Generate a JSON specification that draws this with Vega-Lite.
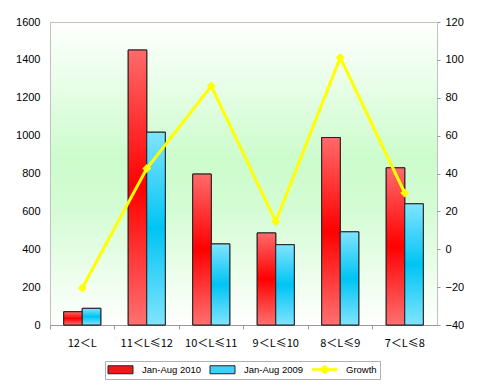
{
  "$schema": "https://vega.github.io/schema/vega-lite/v6.json",
  "width": 387,
  "height": 303,
  "padding": {"top": 16, "left": 15, "right": 18, "bottom": 4},
  "background": "#ffffff",
  "datasets": {
    "bars": [
      {"cat": "12＜L", "series": "Jan-Aug 2010", "value": 70},
      {"cat": "12＜L", "series": "Jan-Aug 2009", "value": 88},
      {"cat": "11＜L≤12", "series": "Jan-Aug 2010", "value": 1452},
      {"cat": "11＜L≤12", "series": "Jan-Aug 2009", "value": 1018},
      {"cat": "10＜L≤11", "series": "Jan-Aug 2010", "value": 797},
      {"cat": "10＜L≤11", "series": "Jan-Aug 2009", "value": 428},
      {"cat": "9＜L≤10", "series": "Jan-Aug 2010", "value": 486},
      {"cat": "9＜L≤10", "series": "Jan-Aug 2009", "value": 424},
      {"cat": "8＜L≤9", "series": "Jan-Aug 2010", "value": 990},
      {"cat": "8＜L≤9", "series": "Jan-Aug 2009", "value": 492},
      {"cat": "7＜L≤8", "series": "Jan-Aug 2010", "value": 830},
      {"cat": "7＜L≤8", "series": "Jan-Aug 2009", "value": 640}
    ],
    "growth": [
      {"cat": "12＜L", "series": "Growth", "growth": -20.5},
      {"cat": "11＜L≤12", "series": "Growth", "growth": 42.6},
      {"cat": "10＜L≤11", "series": "Growth", "growth": 86.2},
      {"cat": "9＜L≤10", "series": "Growth", "growth": 14.6},
      {"cat": "8＜L≤9", "series": "Growth", "growth": 101.2},
      {"cat": "7＜L≤8", "series": "Growth", "growth": 29.7}
    ]
  },
  "config": {
    "view": {
      "stroke": "#c0c0c0",
      "strokeWidth": 1,
      "fill": {
        "gradient": "linear", "x1": 0, "y1": 0, "x2": 0, "y2": 1,
        "stops": [
          {"offset": 0, "color": "#ffffff"},
          {"offset": 0.45, "color": "#ccfccc"},
          {"offset": 0.62, "color": "#d4fcd4"},
          {"offset": 1, "color": "#ffffff"}
        ]
      }
    },
    "axis": {
      "labelFont": "Liberation Sans",
      "labelFontSize": 11,
      "labelColor": "#000000",
      "titleFont": "Liberation Sans",
      "grid": false,
      "labelOverlap": false
    },
    "legend": {
      "labelFont": "Liberation Sans",
      "labelFontSize": 9.5,
      "labelColor": "#000000",
      "orient": "none",
      "legendX": 55,
      "legendY": 339,
      "direction": "horizontal",
      "padding": 3,
      "strokeColor": "#b0b0b0",
      "fillColor": "#ffffff",
      "columnPadding": 6,
      "symbolOffset": 7,
      "labelOffset": 16,
      "symbolSize": 100,
      "symbolStrokeWidth": 1
    }
  },
  "layer": [
    {
      "layer": [
        {
          "data": {"name": "bars"},
          "mark": {"type": "bar", "strokeWidth": 1},
          "encoding": {
            "x": {
              "field": "cat", "type": "nominal", "sort": null,
              "scale": {"paddingInner": 0, "paddingOuter": 0},
              "axis": {
                "title": null, "labelAngle": 0, "bandPosition": 0,
                "labelFont": "Noto Sans CJK SC", "labelFontSize": 11,
                "domainColor": "#999999", "tickColor": "#999999", "tickSize": 4,
                "labelPadding": 8
              }
            },
            "xOffset": {
              "field": "series", "type": "nominal",
              "scale": {"domain": ["Jan-Aug 2010", "Jan-Aug 2009"], "paddingInner": 0, "paddingOuter": 0.74}
            },
            "y": {
              "field": "value", "type": "quantitative",
              "scale": {"domain": [0, 1600]},
              "axis": {
                "title": null, "values": [0, 200, 400, 600, 800, 1000, 1200, 1400, 1600],
                "format": "d", "labelOverlap": false, "tickCount": 9,
                "ticks": false, "domain": false, "labelPadding": 10
              }
            },
            "color": {
              "field": "series", "type": "nominal",
              "scale": {
                "domain": ["Jan-Aug 2010", "Jan-Aug 2009", "Growth"],
                "range": ["#f01818", "#40d0ff", "#ffff00"]
              },
              "legend": {"title": null}
            },
            "stroke": {
              "field": "series", "type": "nominal",
              "scale": {
                "domain": ["Jan-Aug 2010", "Jan-Aug 2009", "Growth"],
                "range": ["#222222", "#222222", "#ffff00"]
              },
              "legend": {"title": null}
            }
          }
        },
        {
          "data": {"name": "bars"},
          "transform": [{"filter": "datum.series === 'Jan-Aug 2010'"}],
          "mark": {
            "type": "bar", "stroke": "#222222", "strokeWidth": 1,
            "fill": {"gradient": "linear", "x1": 0, "y1": 0, "x2": 0, "y2": 1,
              "stops": [
                {"offset": 0, "color": "#ff6a6a"},
                {"offset": 0.5, "color": "#ff0000"},
                {"offset": 1, "color": "#ff7070"}
              ]}
          },
          "encoding": {
            "x": {"field": "cat", "type": "nominal", "sort": null},
            "xOffset": {"field": "series", "type": "nominal"},
            "y": {"field": "value", "type": "quantitative"}
          }
        },
        {
          "data": {"name": "bars"},
          "transform": [{"filter": "datum.series === 'Jan-Aug 2009'"}],
          "mark": {
            "type": "bar", "stroke": "#222222", "strokeWidth": 1,
            "fill": {"gradient": "linear", "x1": 0, "y1": 0, "x2": 0, "y2": 1,
              "stops": [
                {"offset": 0, "color": "#80e4ff"},
                {"offset": 0.5, "color": "#00c4f4"},
                {"offset": 1, "color": "#80e4ff"}
              ]}
          },
          "encoding": {
            "x": {"field": "cat", "type": "nominal", "sort": null},
            "xOffset": {"field": "series", "type": "nominal"},
            "y": {"field": "value", "type": "quantitative"}
          }
        }
      ]
    },
    {
      "layer": [
        {
          "data": {"name": "growth"},
          "mark": {"type": "line", "color": "#ffff00", "strokeWidth": 3},
          "encoding": {
            "x": {"field": "cat", "type": "nominal", "sort": null},
            "y": {
              "field": "growth", "type": "quantitative",
              "scale": {"domain": [-40, 120]},
              "axis": {
                "title": null, "orient": "right",
                "values": [-40, -20, 0, 20, 40, 60, 80, 100, 120],
                "labelOverlap": false, "tickCount": 9,
                "domain": false, "ticks": true, "tickSize": 3, "tickColor": "#999999",
                "labelPadding": 5
              }
            }
          }
        },
        {
          "data": {"name": "growth"},
          "mark": {"type": "point", "shape": "diamond", "size": 80, "filled": true, "color": "#ffff00", "opacity": 1},
          "encoding": {
            "x": {"field": "cat", "type": "nominal", "sort": null},
            "y": {"field": "growth", "type": "quantitative"}
          }
        },
        {
          "data": {"name": "growth"},
          "mark": {"type": "point", "size": 0, "filled": true},
          "encoding": {
            "x": {"field": "cat", "type": "nominal", "sort": null},
            "y": {"field": "growth", "type": "quantitative"},
            "shape": {
              "field": "series", "type": "nominal",
              "scale": {
                "domain": ["Jan-Aug 2010", "Jan-Aug 2009", "Growth"],
                "range": [
                  "M-2.5,-0.8H2.5V0.8H-2.5Z",
                  "M-2.5,-0.8H2.5V0.8H-2.5Z",
                  "M-2.5,-0.15H2.5V0.15H-2.5Z M-0.9,0L0,-0.9L0.9,0L0,0.9Z"
                ]
              },
              "legend": {"title": null}
            }
          }
        }
      ]
    }
  ],
  "resolve": {"scale": {"y": "independent"}}
}
